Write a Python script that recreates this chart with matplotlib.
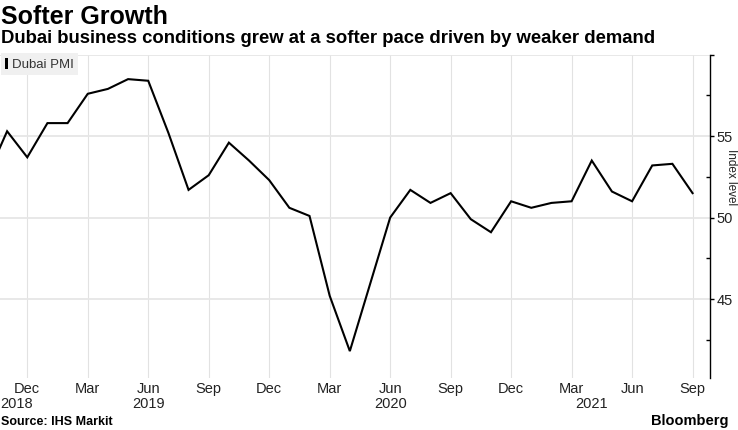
import matplotlib
matplotlib.use("Agg")
import matplotlib.pyplot as plt
import numpy as np
from matplotlib.patches import Patch
from matplotlib.transforms import blended_transform_factory

# ---------------- data ----------------
month_labels = ["Oct", "Nov", "Dec",
                "Jan", "Feb", "Mar", "Apr", "May", "Jun", "Jul", "Aug", "Sep", "Oct", "Nov", "Dec",
                "Jan", "Feb", "Mar", "Apr", "May", "Jun", "Jul", "Aug", "Sep", "Oct", "Nov", "Dec",
                "Jan", "Feb", "Mar", "Apr", "May", "Jun", "Jul", "Aug", "Sep"]
pmi = [52.5, 55.3, 53.7,
       55.8, 55.8, 57.6, 57.9, 58.5, 58.4, 55.2, 51.7, 52.6, 54.6, 53.5, 52.3,
       50.6, 50.1, 45.2, 41.8, 45.9, 50.0, 51.7, 50.9, 51.5, 49.9, 49.1, 51.0,
       50.6, 50.9, 51.0, 53.5, 51.6, 51.0, 53.2, 53.3, 51.5]
tick_months = ["Dec", "Mar", "Jun", "Sep"]
year_labels = ["2018", "2019", "2020", "2021"]
year_label_pos = [-0.55, 6, 18, 28]   # month index (Dec 2018 = 0) where year labels are centred
y_major = [45, 50, 55, 60]
y_labels = ["45", "50", "55", ""]
y_minor = [42.5, 47.5, 52.5, 57.5]

# ---------------- layout ----------------
W, H = 738, 430
fig = plt.figure(figsize=(W / 100, H / 100), dpi=100)
fig.patch.set_facecolor("white")


def fx(x):
    return x / W


def fy(y):
    return 1 - y / H


NARROW = ["Liberation Sans Narrow", "Liberation Sans", "DejaVu Sans"]
BOLD = ["Liberation Sans", "DejaVu Sans"]

left_px, right_px, top_px, bot_px = -19.1, 709.5, 54.7, 378
ax = fig.add_axes([fx(left_px), fy(bot_px), fx(right_px) - fx(left_px), fy(top_px) - fy(bot_px)])

t = np.arange(len(pmi)) - 2  # Dec 2018 = 0
ax.plot(t, pmi, color="black", lw=1.5, solid_joinstyle="miter", zorder=3)

ax.set_xlim(-2.3, 33.84)
ax.set_ylim(40.15, 60)

tick_pos = [ti for ti, m in zip(t, month_labels) if m in tick_months]
tick_lab = [m for m in month_labels if m in tick_months]
ax.set_xticks(tick_pos)
ax.set_xticklabels(tick_lab, family=NARROW, fontsize=10.5, color="#222222")
ax.tick_params(axis="x", which="both", length=0, pad=3)

ax.yaxis.tick_right()
ax.set_yticks(y_major)
ax.set_yticklabels(y_labels, family=NARROW, fontsize=10.5, color="#222222")
ax.set_yticks(y_minor, minor=True)
ax.tick_params(axis="y", which="major", length=3, width=1, direction="out", pad=2, color="black")
ax.tick_params(axis="y", which="minor", length=3, width=1, direction="in", color="black")

for s in ["left", "top", "bottom"]:
    ax.spines[s].set_visible(False)
ax.spines["right"].set_color("black")
ax.spines["right"].set_linewidth(1)

ax.grid(axis="x", which="major", color="#e2e2e2", lw=0.8)
ax.grid(axis="y", which="major", color="#e6e6e6", lw=1.3)
ax.set_axisbelow(True)

trans = blended_transform_factory(ax.transData, fig.transFigure)
for lab, pos in zip(year_labels, year_label_pos):
    ax.text(pos, fy(404), lab, transform=trans, ha="center", va="center",
            family=NARROW, fontsize=10.5, color="#222222", clip_on=False)

leg = ax.legend(handles=[Patch(facecolor="black", edgecolor="none", label="Dubai PMI")],
                loc="upper left", bbox_to_anchor=(fx(0.5), fy(53)), bbox_transform=fig.transFigure,
                frameon=True, facecolor="#f0f0f0", edgecolor="none", fancybox=False, framealpha=1,
                prop={"family": NARROW, "size": 9.5}, handlelength=0.25, handleheight=0.9,
                handletextpad=0.25, borderpad=0.35, borderaxespad=0)
for txt in leg.get_texts():
    txt.set_color("#333333")

# ---------------- text ----------------
fig.text(fx(1), fy(24), "Softer Growth", family=BOLD, fontweight="bold", fontsize=18,
         ha="left", va="baseline", color="black")
fig.text(fx(1), fy(43.3), "Dubai business conditions grew at a softer pace driven by weaker demand",
         family=BOLD, fontweight="bold", fontsize=13.3, ha="left", va="baseline", color="black")
fig.text(fx(1), fy(425), "Source: IHS Markit", family=BOLD, fontweight="bold", fontsize=9,
         ha="left", va="baseline", color="black")
fig.text(fx(728), fy(425), "Bloomberg", family=BOLD, fontweight="bold", fontsize=10.5,
         ha="right", va="baseline", color="black")
fig.text(fx(737), fy(177), "Index level", family=NARROW, fontsize=8.5, rotation=-90,
         ha="right", va="center", color="#222222")

fig.savefig("out.png", dpi=100, facecolor="white")
